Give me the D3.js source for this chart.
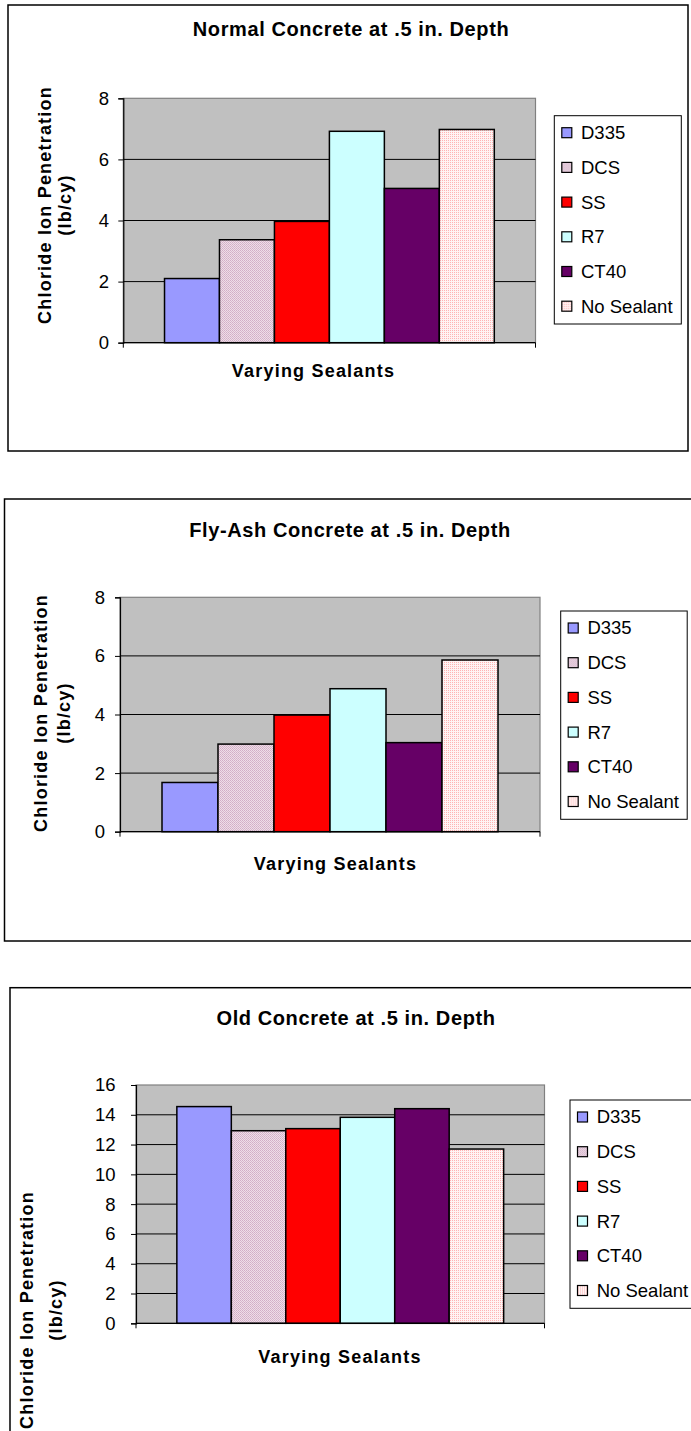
<!DOCTYPE html>
<html>
<head>
<meta charset="utf-8">
<script src="https://cdn.jsdelivr.net/npm/d3@7"></script>
<style>
  html, body { margin: 0; padding: 0; background: #ffffff; }
  svg { display: block; }
  text { font-family: "Liberation Sans", Arial, sans-serif; fill: #000; }
</style>
</head>
<body>
<svg id="chart" width="691" height="1431"></svg>
<script>
// Sealant categories shared by all three panels
const sealants = ["D335", "DCS", "SS", "R7", "CT40", "No Sealant"];

// Chloride ion penetration (lb/cy) at 0.5 in. depth
const normalValues = [2.1, 3.37, 3.97, 6.92, 5.05, 6.98];
const flyAshValues = [1.68, 2.99, 3.98, 4.88, 3.04, 5.86];
const oldValues    = [14.55, 12.93, 13.07, 13.83, 14.41, 11.70];

// Axis tick values
const ticksEight   = [0, 2, 4, 6, 8];
const ticksSixteen = [0, 2, 4, 6, 8, 10, 12, 14, 16];

// Text
const panelTitles = [
  "Normal Concrete at .5 in. Depth",
  "Fly-Ash Concrete at .5 in. Depth",
  "Old Concrete at .5 in. Depth"
];
const yTitleLines = ["Chloride Ion Penetration", "(lb/cy)"];
const xTitle = "Varying Sealants";

// Series fills (two are patterned)
const seriesFills = ["#9999FF", "url(#patDCS)", "#FF0000", "#CCFFFF", "#660066", "url(#patNone)"];

const svg = d3.select("#chart");

// Fine dither patterns for the textured series
const defs = svg.append("defs");
const pDcs = defs.append("pattern").attr("id", "patDCS")
  .attr("patternUnits", "userSpaceOnUse").attr("width", 2).attr("height", 2);
pDcs.append("rect").attr("width", 2).attr("height", 2).attr("fill", "#EEDDE8");
pDcs.append("rect").attr("x", 0).attr("y", 0).attr("width", 1).attr("height", 1).attr("fill", "#D2AEC6");
pDcs.append("rect").attr("x", 1).attr("y", 1).attr("width", 1).attr("height", 1).attr("fill", "#D8B8CC");

const pNone = defs.append("pattern").attr("id", "patNone")
  .attr("patternUnits", "userSpaceOnUse").attr("width", 2).attr("height", 2);
pNone.append("rect").attr("width", 2).attr("height", 2).attr("fill", "#FFF4F4");
pNone.append("rect").attr("x", 0).attr("y", 0).attr("width", 1).attr("height", 1).attr("fill", "#FFB4B4");

// Panel layouts
const panels = [
  {
    values: normalValues, ticks: ticksEight, max: 8, title: panelTitles[0],
    box: { x: 8, y: 5, w: 680, h: 446 },
    plot: { l: 123.3, r: 535.5, t: 98.3, b: 342.7 },
    titlePos: { x: 351, y: 36 },
    yTitle: { x1: 44.5, x2: 64.5, cy: 205 },
    xTitlePos: { x: 313.5, y: 377 },
    legend: { x: 554.3, y: 115.7, w: 127, h: 208.3 },
    tickPad: 9.3
  },
  {
    values: flyAshValues, ticks: ticksEight, max: 8, title: panelTitles[1],
    box: { x: 4.5, y: 499, w: 700, h: 442 },
    plot: { l: 120, r: 540, t: 597.3, b: 831.7 },
    titlePos: { x: 350, y: 537 },
    yTitle: { x1: 41, x2: 64, cy: 713 },
    xTitlePos: { x: 335.5, y: 870 },
    legend: { x: 560.7, y: 611, w: 126.5, h: 208.3 },
    tickPad: 10
  },
  {
    values: oldValues, ticks: ticksSixteen, max: 16, title: panelTitles[2],
    box: { x: 10, y: 987.7, w: 700, h: 500 },
    plot: { l: 136, r: 544.5, t: 1085, b: 1323.3 },
    titlePos: { x: 356, y: 1025 },
    yTitle: { x1: 26.5, x2: 56, cy: 1310 },
    xTitlePos: { x: 340, y: 1363 },
    legend: { x: 570, y: 1100, w: 127, h: 208.3 },
    tickPad: 15.5
  }
];

panels.forEach(p => {
  const g = svg.append("g");

  // Outer chart frame
  g.append("rect")
    .attr("x", p.box.x).attr("y", p.box.y)
    .attr("width", p.box.w).attr("height", p.box.h)
    .attr("fill", "#fff").attr("stroke", "#000").attr("stroke-width", 1.5);

  // Scales
  const x = d3.scaleBand().domain(sealants)
    .range([p.plot.l, p.plot.r]).paddingInner(0).paddingOuter(0.75);
  const y = d3.scaleLinear().domain([0, p.max]).range([p.plot.b, p.plot.t]);

  // Plot area
  g.append("rect")
    .attr("x", p.plot.l).attr("y", p.plot.t)
    .attr("width", p.plot.r - p.plot.l).attr("height", p.plot.b - p.plot.t)
    .attr("fill", "#C0C0C0").attr("stroke", "#808080").attr("stroke-width", 1.2);

  // Gridlines
  g.append("g").selectAll("line")
    .data(p.ticks.filter(t => t > 0 && t < p.max))
    .join("line")
    .attr("x1", p.plot.l).attr("x2", p.plot.r)
    .attr("y1", d => y(d)).attr("y2", d => y(d))
    .attr("stroke", "#000").attr("stroke-width", 1);

  // Bars
  g.append("g").selectAll("rect")
    .data(sealants.map((s, i) => ({ s, v: p.values[i], i })))
    .join("rect")
    .attr("x", d => x(d.s)).attr("y", d => y(d.v))
    .attr("width", x.bandwidth()).attr("height", d => y(0) - y(d.v))
    .attr("fill", d => seriesFills[d.i])
    .attr("stroke", "#000").attr("stroke-width", 1.5);

  // Value axis
  const yAxis = d3.axisLeft(y).tickValues(p.ticks).tickSize(5)
    .tickPadding(p.tickPad).tickFormat(d3.format("d"));
  const ya = g.append("g").attr("transform", `translate(${p.plot.l},0)`).call(yAxis);
  ya.select(".domain").attr("stroke", "#000").attr("stroke-width", 1.2);
  ya.selectAll(".tick line").attr("stroke", "#000").attr("stroke-width", 1);
  ya.selectAll(".tick text")
    .style("font-family", "'Liberation Sans', Arial, sans-serif")
    .style("font-size", "18.5px").attr("fill", "#000");

  // Category axis with boundary ticks
  const xa = g.append("g");
  xa.append("line")
    .attr("x1", p.plot.l).attr("x2", p.plot.r)
    .attr("y1", y(0)).attr("y2", y(0))
    .attr("stroke", "#000").attr("stroke-width", 1.2);
  xa.selectAll("line.edge").data([p.plot.l, p.plot.r]).join("line")
    .attr("class", "edge")
    .attr("x1", d => d).attr("x2", d => d)
    .attr("y1", y(0)).attr("y2", y(0) + 5)
    .attr("stroke", "#000").attr("stroke-width", 1);

  // Chart title
  g.append("text")
    .attr("x", p.titlePos.x).attr("y", p.titlePos.y)
    .attr("text-anchor", "middle")
    .attr("font-size", 20).attr("font-weight", "bold")
    .attr("letter-spacing", 0.6)
    .text(p.title);

  // Axis titles
  g.append("text")
    .attr("x", p.xTitlePos.x).attr("y", p.xTitlePos.y)
    .attr("text-anchor", "middle")
    .attr("font-size", 18).attr("font-weight", "bold")
    .attr("letter-spacing", 1.2)
    .text(xTitle);

  [p.yTitle.x1, p.yTitle.x2].forEach((lx, i) => {
    g.append("text")
      .attr("transform", `translate(${lx},${p.yTitle.cy}) rotate(-90)`)
      .attr("text-anchor", "middle").attr("dy", "0.35em")
      .attr("font-size", 18).attr("font-weight", "bold")
      .attr("letter-spacing", 1.2)
      .text(yTitleLines[i]);
  });

  // Legend
  const lg = g.append("g");
  lg.append("rect")
    .attr("x", p.legend.x).attr("y", p.legend.y)
    .attr("width", p.legend.w).attr("height", p.legend.h)
    .attr("fill", "#fff").attr("stroke", "#000").attr("stroke-width", 1);
  const step = 34.7;
  const firstY = p.legend.y + 17;
  const items = lg.selectAll("g.item").data(sealants).join("g")
    .attr("class", "item")
    .attr("transform", (d, i) => `translate(${p.legend.x},${firstY + i * step})`);
  items.append("rect")
    .attr("x", 7.5).attr("y", -5).attr("width", 10).attr("height", 10)
    .attr("fill", (d, i) => seriesFills[i])
    .attr("stroke", "#000").attr("stroke-width", 1.2);
  items.append("text")
    .attr("x", 26.7).attr("dy", "0.35em")
    .attr("font-size", 18.5)
    .text(d => d);
});
</script>
</body>
</html>
